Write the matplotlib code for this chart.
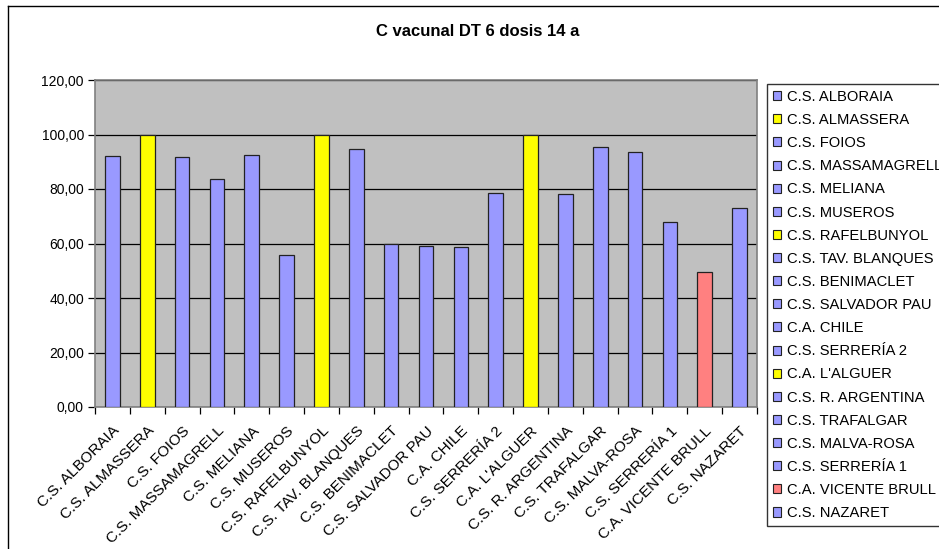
import matplotlib
matplotlib.use("Agg")
import matplotlib.pyplot as plt
from matplotlib.patches import Patch
from matplotlib.lines import Line2D

plt.rcParams['font.family'] = ['Liberation Sans', 'DejaVu Sans']

title = "C vacunal DT 6 dosis 14 a"
categories = ["C.S. ALBORAIA", "C.S. ALMASSERA", "C.S. FOIOS", "C.S. MASSAMAGRELL",
              "C.S. MELIANA", "C.S. MUSEROS", "C.S. RAFELBUNYOL", "C.S. TAV. BLANQUES",
              "C.S. BENIMACLET", "C.S. SALVADOR PAU", "C.A. CHILE", "C.S. SERRERÍA 2",
              "C.A. L'ALGUER", "C.S. R. ARGENTINA", "C.S. TRAFALGAR", "C.S. MALVA-ROSA",
              "C.S. SERRERÍA 1", "C.A. VICENTE BRULL", "C.S. NAZARET"]
values = [92.1, 100.0, 91.7, 83.7, 92.5, 55.6, 100.0, 94.7, 59.8, 59.1, 58.6,
          78.5, 100.0, 78.1, 95.4, 93.6, 67.9, 49.4, 73.0]
colors = ["#9999FF", "#FFFF00", "#9999FF", "#9999FF", "#9999FF", "#9999FF", "#FFFF00",
          "#9999FF", "#9999FF", "#9999FF", "#9999FF", "#9999FF", "#FFFF00", "#9999FF",
          "#9999FF", "#9999FF", "#9999FF", "#FF8080", "#9999FF"]
yticks = [0, 20, 40, 60, 80, 100, 120]
ytick_labels = ["0,00", "20,00", "40,00", "60,00", "80,00", "100,00", "120,00"]

W, H = 939, 549
fig = plt.figure(figsize=(W / 100, H / 100), dpi=100)
fig.patch.set_facecolor("white")

L, R, T, B = 95, 757, 80, 407
ax = fig.add_axes([L / W, 1 - B / H, (R - L) / W, (B - T) / H])
ax.set_facecolor("#C0C0C0")

x = list(range(len(categories)))
ax.bar(x, values, width=0.42, color=colors, edgecolor="#222222", linewidth=0.9, zorder=3)

ax.set_xlim(-0.5, len(categories) - 0.5)
ax.set_ylim(0, 120)
ax.set_yticks(yticks)
ax.set_yticklabels(ytick_labels, fontsize=10)
ax.yaxis.grid(True, color="black", linewidth=0.9, zorder=1)
ax.set_axisbelow(True)

ax.set_xticks([i - 0.5 for i in range(len(categories) + 1)])
ax.set_xticklabels([])
ax.set_xticks(x, minor=True)
ax.set_xticklabels(categories, minor=True, rotation=45, ha="right", va="top",
                   rotation_mode="anchor", fontsize=11)
ax.tick_params(axis="x", which="minor", length=0, pad=12)
ax.tick_params(axis="x", which="major", length=5, width=0.9, color="black", direction="out")
ax.tick_params(axis="y", length=5, width=0.9, color="black", direction="out", pad=3)

for s in ["top", "right", "left", "bottom"]:
    ax.spines[s].set_color("#808080")
    ax.spines[s].set_linewidth(1.2)

fig.text(478 / W, 1 - 32 / H, title, ha="center", va="center", fontsize=12, fontweight="bold")

# outer chart border (partially visible)
fig.add_artist(Line2D([8 / W, 8 / W], [1 - 5.5 / H, 0], transform=fig.transFigure,
                      color="black", linewidth=1.0))
fig.add_artist(Line2D([8 / W, 1], [1 - 5.5 / H, 1 - 5.5 / H], transform=fig.transFigure,
                      color="black", linewidth=1.0))

handles = [Patch(facecolor=c, edgecolor="#222222", linewidth=0.8) for c in colors]
leg = fig.legend(handles, categories, loc="upper left",
                 bbox_to_anchor=(767 / W, 1 - 84 / H), fontsize=10.6,
                 frameon=True, fancybox=False, edgecolor="black",
                 handlelength=0.57, handleheight=0.57, handletextpad=0.38,
                 labelspacing=0.62, borderpad=0.4, borderaxespad=0)
leg.get_frame().set_linewidth(1.0)

fig.savefig("out.png", dpi=100)
